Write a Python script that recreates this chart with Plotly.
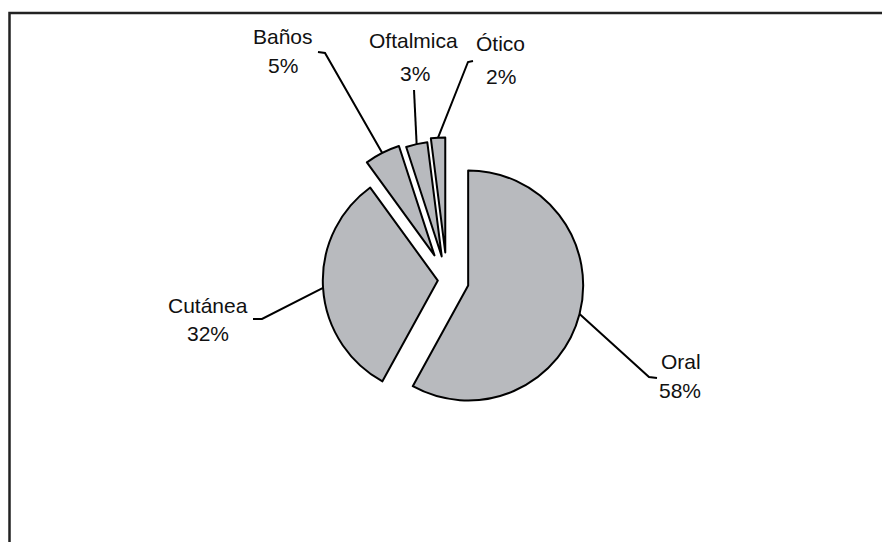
import math
import plotly.graph_objects as go

# ---- data ----
labels = ["Oral", "Cutánea", "Baños", "Oftalmica", "Ótico"]
values = [58, 32, 5, 3, 2]
pulls = [0.19, 0.08, 0.24, 0.21, 0.24]

# ---- layout constants (pixels) ----
W, H = 882, 542
CX, CY = 447, 280          # pie centre
R = 115                    # pie radius
FILL = "#b8babe"
FONT = dict(family="Liberation Sans, Arial, sans-serif", size=21, color="#111111")

# label positions (name centre, percent centre) and leader-line start/elbow points
name_pos = {"Oral": (681, 362), "Cutánea": (208, 305), "Baños": (283, 37),
            "Oftalmica": (413, 41), "Ótico": (501, 43)}
pct_pos = {"Oral": (680, 390), "Cutánea": (208, 333), "Baños": (283, 65),
           "Oftalmica": (415, 73), "Ótico": (501, 77)}
leader_start = {"Oral": [(657, 378), (649, 377)],
                "Cutánea": [(253, 319), (262, 319)],
                "Baños": [(318, 52), (325, 53)],
                "Oftalmica": [(414, 90)],
                "Ótico": [(473, 61), (468, 62)]}


def px(x, y):
    return x / W, 1 - y / H


half = R * (1 + max(pulls))
dom_x = [(CX - half) / W, (CX + half) / W]
dom_y = [1 - (CY + half) / H, 1 - (CY - half) / H]

fig = go.Figure()
fig.add_trace(go.Pie(
    labels=labels, values=values, pull=pulls, sort=False,
    direction="clockwise", rotation=0, textinfo="none", hoverinfo="skip",
    marker=dict(colors=[FILL] * len(values), line=dict(color="#000000", width=2)),
    domain=dict(x=dom_x, y=dom_y), showlegend=False,
))

total = sum(values)
shapes = []
annotations = []
cum = 0
for lab, v, p in zip(labels, values, pulls):
    theta = 2 * math.pi * (cum + v / 2) / total
    cum += v
    dx, dy = math.sin(theta), -math.cos(theta)
    ex, ey = CX + (1 + p) * R * dx, CY + (1 + p) * R * dy
    pts = leader_start[lab] + [(ex, ey)]
    path = "M " + " L ".join(f"{px(x, y)[0]:.5f},{px(x, y)[1]:.5f}" for x, y in pts)
    shapes.append(dict(type="path", xref="paper", yref="paper", path=path,
                       line=dict(color="#000000", width=2)))
    nx, ny = px(*name_pos[lab])
    annotations.append(dict(text=lab, x=nx, y=ny, xref="paper", yref="paper",
                            xanchor="center", yanchor="middle", showarrow=False, font=FONT))
    qx, qy = px(*pct_pos[lab])
    annotations.append(dict(text=f"{round(100 * v / total)}%", x=qx, y=qy, xref="paper",
                            yref="paper", xanchor="center", yanchor="middle",
                            showarrow=False, font=FONT))

# chart frame (left and top edges visible)
fx0, fy0 = px(9.5, 542)
fx1, fy1 = px(9.5, 13)
fx2, fy2 = px(882, 13)
shapes.append(dict(type="path", xref="paper", yref="paper",
                   path=f"M {fx0},{fy0} L {fx1},{fy1} L {fx2},{fy2}",
                   line=dict(color="#222222", width=2.5)))

fig.update_layout(
    width=W, height=H, autosize=False,
    margin=dict(l=0, r=0, t=0, b=0),
    paper_bgcolor="white", plot_bgcolor="white",
    shapes=shapes, annotations=annotations,
)

fig.write_html("out.html")
